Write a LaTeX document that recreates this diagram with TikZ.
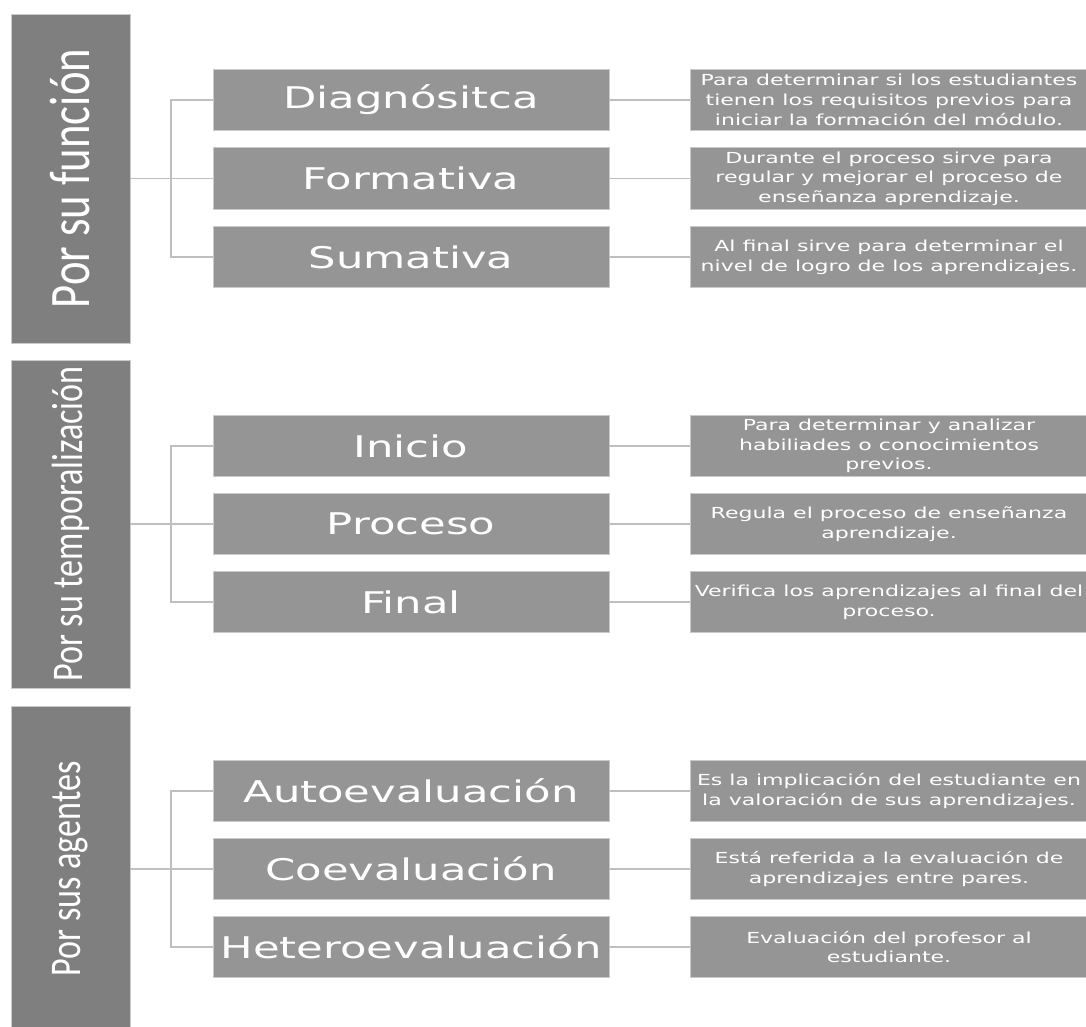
\documentclass[tikz,border=0pt]{standalone}
\usepackage{fontspec}
\newfontfamily\catfont[FakeStretch=0.78]{Carlito}
\newfontfamily\boxfont[FakeStretch=1.45]{DejaVu Sans}
\definecolor{catgray}{HTML}{7F7F7F}
\definecolor{boxgray}{HTML}{959595}
\definecolor{edgegray}{HTML}{CACACA}
\definecolor{linegray}{HTML}{BFBFBF}
\begin{document}
\begin{tikzpicture}[x=0.2mm, y=-0.2mm,
		catbox/.style={fill=catgray, draw=edgegray, line width=0.5pt, rotate=90, minimum height=23.8mm, inner sep=0pt, text=white},
		midbox/.style={fill=boxgray, draw=edgegray, line width=0.5pt, minimum width=79.2mm, minimum height=12.3mm, inner sep=0pt, text=white, font=\boxfont\fontsize{17}{20}\selectfont},
		descbox/.style={fill=boxgray, draw=edgegray, line width=0.5pt, minimum width=79.4mm, minimum height=12.3mm, inner sep=0pt, text=white, align=center, font=\boxfont\fontsize{8.65}{11.2}\selectfont},
		link/.style={draw=linegray, line width=1.1pt}]
			\useasboundingbox (0,0) rectangle (1086,1027);
			% por su funcion
			\node[catbox, minimum width=65.8mm, font=\catfont\fontsize{32.6}{36}\selectfont] (cat1) at (70.5,178.5) {Por su función};
			\node[midbox] (dia) at (411,100) {Diagnósitca};
			\node[midbox] (for) at (411,178.5) {Formativa};
			\node[midbox] (sum) at (411,257) {Sumativa};
			\node[descbox] (diad) at (889,100) {Para determinar si los estudiantes\\tienen los requisitos previos para\\iniciar la formación del módulo.};
			\node[descbox] (ford) at (889,178.5) {Durante el proceso sirve para\\regular y mejorar el proceso de\\enseñanza aprendizaje.};
			\node[descbox] (sumd) at (889,257) {Al final sirve para determinar el\\nivel de logro de los aprendizajes.};
			\draw[link] (cat1.south) -- (for.west);
			\draw[link] (dia.west) -- ++(-42,0) |- (sum.west);
			\draw[link] (dia.east) -- (diad.west);
			\draw[link] (for.east) -- (ford.west);
			\draw[link] (sum.east) -- (sumd.west);
			% por su temporalizacion
			\node[catbox, minimum width=65.6mm, font=\catfont\fontsize{24.9}{28}\selectfont] (cat2) at (70.5,524) {Por su temporalización};
			\node[midbox] (ini) at (411,446) {Inicio};
			\node[midbox] (pro) at (411,524) {Proceso};
			\node[midbox] (fin) at (411,602) {Final};
			\node[descbox] (inid) at (889,446) {Para determinar y analizar\\habiliades o conocimientos\\previos.};
			\node[descbox] (prod) at (889,524) {Regula el proceso de enseñanza\\aprendizaje.};
			\node[descbox] (find) at (889,602) {Verifica los aprendizajes al final del\\proceso.};
			\draw[link] (cat2.south) -- (pro.west);
			\draw[link] (ini.west) -- ++(-42,0) |- (fin.west);
			\draw[link] (ini.east) -- (inid.west);
			\draw[link] (pro.east) -- (prod.west);
			\draw[link] (fin.east) -- (find.west);
			% por sus agentes
			\node[catbox, minimum width=65.2mm, font=\catfont\fontsize{24.9}{28}\selectfont] (cat3) at (70.5,869) {Por sus agentes};
			\node[midbox] (aut) at (411,791) {Autoevaluación};
			\node[midbox] (coe) at (411,869) {Coevaluación};
			\node[midbox] (het) at (411,947) {Heteroevaluación};
			\node[descbox] (autd) at (889,791) {Es la implicación del estudiante en\\la valoración de sus aprendizajes.};
			\node[descbox] (coed) at (889,869) {Está referida a la evaluación de\\aprendizajes entre pares.};
			\node[descbox] (hetd) at (889,947) {Evaluación del profesor al\\estudiante.};
			\draw[link] (cat3.south) -- (coe.west);
			\draw[link] (aut.west) -- ++(-42,0) |- (het.west);
			\draw[link] (aut.east) -- (autd.west);
			\draw[link] (coe.east) -- (coed.west);
			\draw[link] (het.east) -- (hetd.west);
\end{tikzpicture}
\end{document}
